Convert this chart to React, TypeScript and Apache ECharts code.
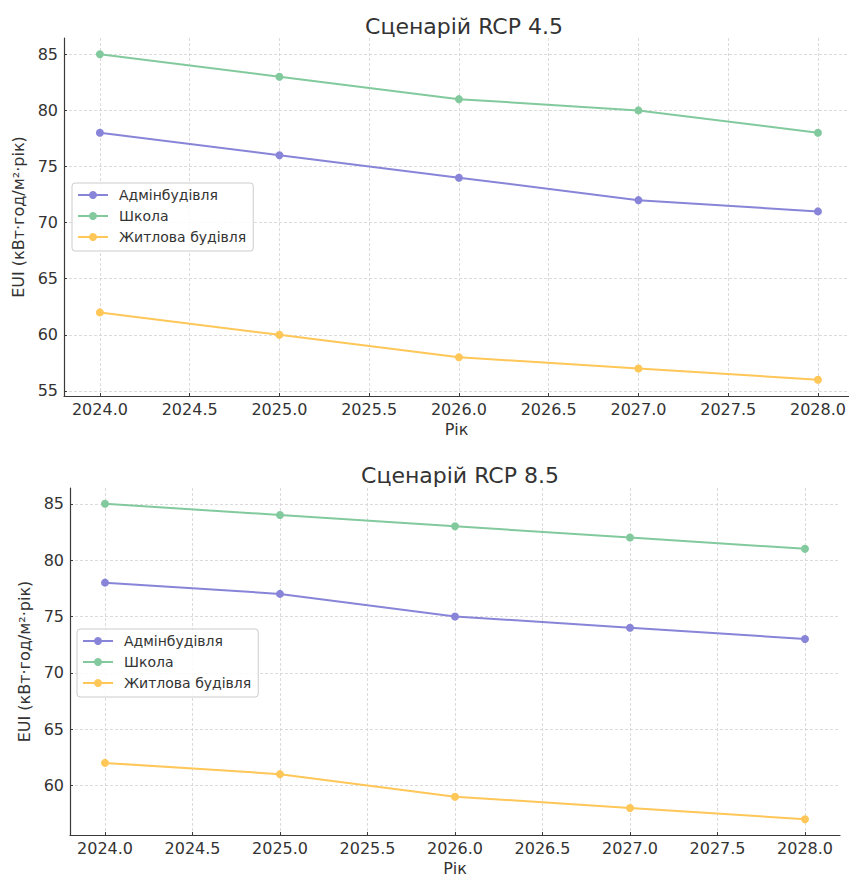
import React, { useEffect, useRef } from "react";
import * as echarts from "echarts";

const years = [2024, 2025, 2026, 2027, 2028];
const seriesNames = ["Адмінбудівля", "Школа", "Житлова будівля"];
const colors = ["#8884d8", "#82ca9d", "#ffc658"];

const rcp45Admin = [78, 76, 74, 72, 71];
const rcp45School = [85, 83, 81, 80, 78];
const rcp45Housing = [62, 60, 58, 57, 56];

const rcp85Admin = [78, 77, 75, 74, 73];
const rcp85School = [85, 84, 83, 82, 81];
const rcp85Housing = [62, 61, 59, 58, 57];

const xTicks = [2024, 2024.5, 2025, 2025.5, 2026, 2026.5, 2027, 2027.5, 2028];
const yTicksTop = [55, 60, 65, 70, 75, 80, 85];
const yTicksBottom = [60, 65, 70, 75, 80, 85];

const titles = ["Сценарій RCP 4.5", "Сценарій RCP 8.5"];
const xName = "Рік";
const yName = "EUI (кВт·год/м²·рік)";

const FONT = "DejaVu Sans";
const TEXT = "#333333";
const AXIS = "#3a3a3a";

function xAxisCfg(gridIndex: number, max: number) {
  return {
    type: "value",
    gridIndex,
    min: 2023.8,
    max,
    name: xName,
    nameLocation: "middle",
    nameGap: 25,
    nameTextStyle: { fontSize: 16, color: TEXT, fontFamily: FONT },
    axisLine: { show: true, lineStyle: { color: AXIS, width: 1.2 } },
    axisTick: { show: true, inside: true, length: 3, customValues: xTicks, lineStyle: { color: AXIS } },
    axisLabel: {
      customValues: xTicks,
      fontSize: 16,
      color: TEXT,
      fontFamily: FONT,
      margin: 5,
      formatter: (v: number) => v.toFixed(1),
    },
    splitLine: { show: true, lineStyle: { color: "#d2d2d2", type: [3, 2], width: 0.8 } },
  };
}

function yAxisCfg(gridIndex: number, min: number, max: number, ticks: number[]) {
  return {
    type: "value",
    gridIndex,
    min,
    max,
    name: yName,
    nameLocation: "middle",
    nameGap: 33,
    nameTextStyle: { fontSize: 16, color: TEXT, fontFamily: FONT },
    axisLine: { show: true, lineStyle: { color: AXIS, width: 1.2 } },
    axisTick: { show: true, inside: true, length: 3, customValues: ticks, lineStyle: { color: AXIS } },
    axisLabel: { customValues: ticks, fontSize: 16, color: TEXT, fontFamily: FONT, margin: 6 },
    splitLine: { show: true, lineStyle: { color: "#d2d2d2", type: [3, 2], width: 0.8 } },
  };
}

function lineSeries(name: string, data: number[], color: string, idx: number) {
  return {
    type: "line",
    name,
    xAxisIndex: idx,
    yAxisIndex: idx,
    data: years.map((y, i) => [y, data[i]]),
    symbol: "circle",
    symbolSize: 8,
    showSymbol: true,
    lineStyle: { color, width: 2 },
    itemStyle: { color },
  };
}

function legendCfg(left: number, top: number) {
  return {
    orient: "vertical",
    left,
    top,
    data: seriesNames,
    itemWidth: 30,
    itemHeight: 10,
    itemGap: 7,
    padding: [5, 7, 7, 5],
    backgroundColor: "rgba(255,255,255,0.85)",
    borderColor: "#cccccc",
    borderWidth: 1,
    borderRadius: 3,
    textStyle: { fontSize: 14, color: TEXT, fontFamily: FONT, padding: [0, 0, 0, 6] },
  };
}

export default function App() {
  const ref = useRef<HTMLDivElement>(null);
  useEffect(() => {
    if (!ref.current) return;
    const chart = echarts.init(ref.current, null, { renderer: "svg" });
    chart.setOption({
      animation: false,
      backgroundColor: "#ffffff",
      textStyle: { fontFamily: FONT },
      title: [
        {
          text: titles[0],
          left: 459,
          textAlign: "center",
          top: 10,
          textStyle: { fontSize: 22, fontWeight: "normal", color: TEXT, fontFamily: FONT },
        },
        {
          text: titles[1],
          left: 455,
          textAlign: "center",
          top: 459,
          textStyle: { fontSize: 22, fontWeight: "normal", color: TEXT, fontFamily: FONT },
        },
      ],
      legend: [legendCfg(72, 183), legendCfg(77, 629)],
      grid: [
        { left: 64, top: 38, width: 785, height: 358, containLabel: false },
        { left: 70, top: 488, width: 770, height: 349, containLabel: false },
      ],
      xAxis: [xAxisCfg(0, 2028.173), xAxisCfg(1, 2028.2)],
      yAxis: [
        yAxisCfg(0, 54.55, 86.45, yTicksTop),
        yAxisCfg(1, 55.6, 86.4, yTicksBottom),
      ],
      series: [
        lineSeries(seriesNames[0], rcp45Admin, colors[0], 0),
        lineSeries(seriesNames[1], rcp45School, colors[1], 0),
        lineSeries(seriesNames[2], rcp45Housing, colors[2], 0),
        lineSeries(seriesNames[0], rcp85Admin, colors[0], 1),
        lineSeries(seriesNames[1], rcp85School, colors[1], 1),
        lineSeries(seriesNames[2], rcp85Housing, colors[2], 1),
      ],
    });
    return () => chart.dispose();
  }, []);
  return (
    <div
      ref={ref}
      style={{ position: "fixed", left: 0, top: 0, width: 849, height: 877, background: "#fff" }}
    />
  );
}
